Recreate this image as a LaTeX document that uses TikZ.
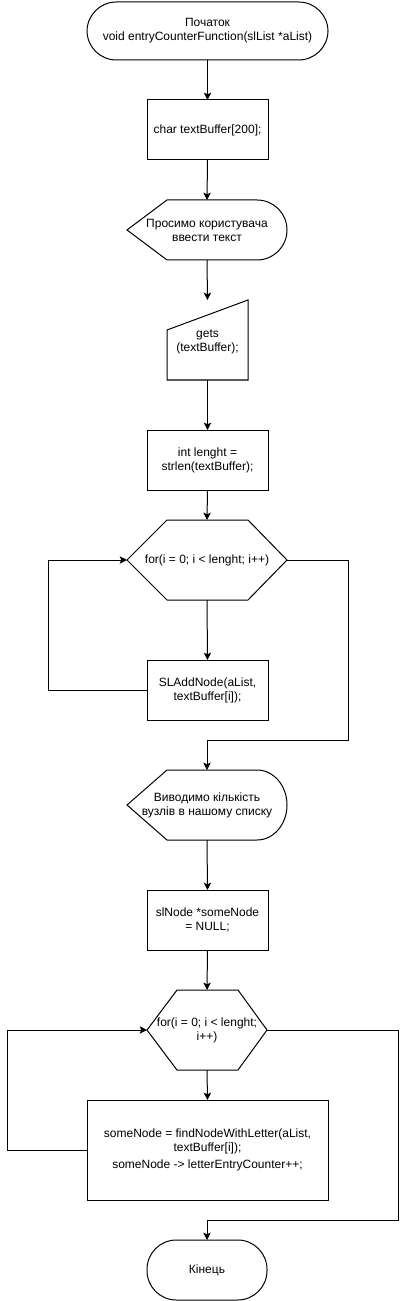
\documentclass[tikz,border=0pt]{standalone}
\usepackage{fontspec}
\setmainfont{Liberation Sans}
\usetikzlibrary{arrows.meta}
\begin{document}
\begin{tikzpicture}[x=0.75pt,y=-0.75pt,line width=0.75pt,
  sz/.style 2 args={minimum width=#1*0.75pt,minimum height=#2*0.75pt},
  base/.style={rectangle,inner sep=0pt,outer sep=0pt,align=center,font=\fontsize{9}{10.5}\selectfont},
  proc/.style={base,draw},
  term/.style={base,draw,rounded corners=22pt},
  ghost/.style={base},
  arr/.style={-{Stealth[length=5.5pt,width=5.5pt,inset=1.2pt]}}]
\useasboundingbox (0,0) rectangle (406,1301);

% nodes
\node[term,sz={241}{58}] (start) at (207.5,31) {Початок\\void entryCounterFunction(slList *aList)};
\node[proc,sz={121}{60}] (char) at (207.5,130) {char textBuffer[200];};
\node[ghost,sz={160}{60}] (disp1) at (207,230) {Просимо користувача\\ввести текст};
\node[ghost,sz={81}{80}] (gets) at (207.5,340) {};
\node[base] (getstxt) at (207.5,342) {gets\\(textBuffer);};
\node[proc,sz={121}{60}] (len) at (207.5,460) {int lenght =\\strlen(textBuffer);};
\node[ghost,sz={160}{80}] (hex1) at (207,560) {for(i = 0; i < lenght; i++)};
\node[proc,sz={121}{60}] (add) at (207.5,690) {SLAddNode(aList,\\textBuffer[i]);};
\node[ghost,sz={160}{70}] (disp2) at (207,805) {Виводимо кількість\\вузлів в нашому списку};
\node[proc,sz={121}{60}] (null) at (207.5,920) {slNode *someNode\\= NULL;};
\node[ghost,sz={120}{80}] (hex2) at (207,1030) {for(i = 0; i < lenght;\\i++)};
\node[proc,sz={241}{100}] (big) at (207.5,1150) {someNode = findNodeWithLetter(aList,\\textBuffer[i]);\\[2pt]someNode -> letterEntryCounter++;};
\node[term,sz={120}{60}] (end) at (207,1270) {Кінець};

% custom outlines
\draw (127,230) -- (167,200) -- (257,200) .. controls (273.6,200) and (287,213.4) .. (287,230)
  .. controls (287,246.6) and (273.6,260) .. (257,260) -- (167,260) -- cycle;
\draw (167,330) -- (248,300) -- (248,380) -- (167,380) -- cycle;
\draw (127,560) -- (167,520) -- (248,520) -- (287,560) -- (248,600) -- (167,600) -- cycle;
\draw (127,805) -- (167,770) -- (257,770) .. controls (273.6,770) and (287,785.7) .. (287,805)
  .. controls (287,824.3) and (273.6,840) .. (257,840) -- (167,840) -- cycle;
\draw (147,1030) -- (177,990) -- (238,990) -- (267,1030) -- (238,1070) -- (177,1070) -- cycle;

% helper coordinates
\coordinate (l1) at (48,560);
\coordinate (r1) at (348,740);
\coordinate (l2) at (7,1030);
\coordinate (r2) at (398,1220);

% connectors
\draw[arr] (start.south) -- (char.north);
\draw[arr] (char.south) -- (disp1.north);
\draw[arr] (disp1.south) -- (gets.north);
\draw[arr] (gets.south) -- (len.north);
\draw[arr] (len.south) -- (hex1.north);
\draw[arr] (hex1.south) -- (add.north);
\draw[arr] (add.west) -| (l1) -- (hex1.west);
\draw[arr] (hex1.east) -| (r1) -| (disp2.north);
\draw[arr] (disp2.south) -- (null.north);
\draw[arr] (null.south) -- (hex2.north);
\draw[arr] (hex2.south) -- (big.north);
\draw[arr] (big.west) -| (l2) -- (hex2.west);
\draw[arr] (hex2.east) -| (r2) -| (end.north);
\end{tikzpicture}
\end{document}
